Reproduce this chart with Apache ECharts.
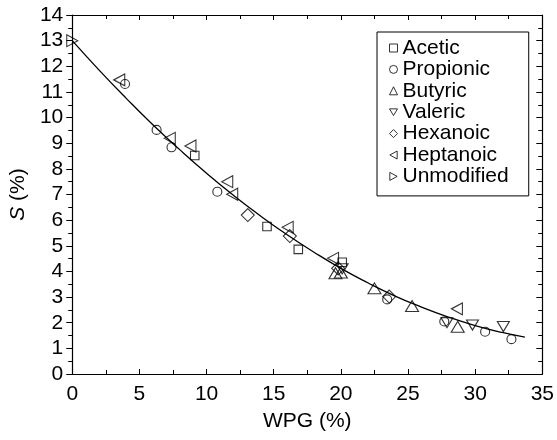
<!DOCTYPE html>
<html>
<head>
<meta charset="utf-8">
<script src="https://cdn.jsdelivr.net/npm/echarts@6/dist/echarts.min.js"></script>
<style>
html,body{margin:0;padding:0;background:#fff;}
#chart{width:557px;height:440px;}
</style>
</head>
<body>
<div id="chart"></div>
<script>
// Data: [WPG (%), S (%)]
const acetic = [[9.12, 8.52], [14.5, 5.75], [16.83, 4.86], [20.1, 4.36]];
const propionic = [[3.93, 11.31], [6.28, 9.52], [7.39, 8.84], [10.8, 7.11], [23.45, 2.91], [27.7, 2.05], [30.74, 1.65], [32.7, 1.36]];
const butyric = [[19.6, 3.93], [20.0, 3.96], [22.5, 3.34], [25.3, 2.65], [28.7, 1.84]];
const valeric = [[20.1, 4.1], [27.9, 2.0], [29.8, 1.91], [32.1, 1.85]];
const hexanoic = [[13.07, 6.2], [16.2, 5.38], [19.8, 4.12], [23.6, 3.02]];
const heptanoic = [[3.5, 11.47], [7.26, 9.19], [8.8, 8.89], [11.54, 7.5], [11.91, 7.01], [16.04, 5.72], [19.42, 4.51], [28.64, 2.54]];
const unmodified = [[0, 13.0]];
// Fitted curve
const fitX = [0, 2, 4, 6, 8, 10, 12, 14, 16, 18, 20, 22, 24, 26, 28, 30, 32, 33.7];
const fitY = [13.0, 11.85, 10.76, 9.72, 8.75, 7.83, 6.97, 6.17, 5.43, 4.75, 4.12, 3.56, 3.05, 2.61, 2.22, 1.89, 1.62, 1.44];
const seriesNames = ['Acetic', 'Propionic', 'Butyric', 'Valeric', 'Hexanoic', 'Heptanoic', 'Unmodified'];

const FONT = 'Liberation Sans, Arial, Helvetica, sans-serif';
const chart = echarts.init(document.getElementById('chart'), null, {renderer: 'canvas'});

const hollow = {color: 'rgba(0,0,0,0)', borderColor: '#000', borderWidth: 1.1};
function sc(name, data, symbol, size) {
  return {
    name: name, type: 'scatter', data: data, symbol: symbol, symbolSize: size,
    itemStyle: hollow, z: 3, emphasis: {disabled: true}
  };
}

const axisCommon = {
  type: 'value',
  axisLine: {show: true, onZero: false, lineStyle: {color: '#000', width: 1.2}},
  splitLine: {show: false},
  minorSplitLine: {show: false}
};

const option = {
  animation: false,
  backgroundColor: '#fff',
  grid: {left: 72, right: 13, top: 15, bottom: 66, containLabel: false},
  legend: {
    data: seriesNames,
    orient: 'vertical',
    left: 377, top: 32,
    padding: [5.5, 20, 9, 12],
    itemGap: 0.4,
    itemWidth: 8, itemHeight: 8,
    itemTextGap: 15,
    borderColor: '#000', borderWidth: 1,
    textStyle: {fontFamily: FONT, fontSize: 21, color: '#000'},
    itemStyle: {color: 'rgba(0,0,0,0)', borderColor: '#000', borderWidth: 1}
  },
  xAxis: [
    Object.assign({}, axisCommon, {
      position: 'bottom', min: 0, max: 35, interval: 5,
      axisTick: {show: true, inside: true, length: 5, lineStyle: {color: '#000'}},
      minorTick: {show: true, splitNumber: 2, length: 4, lineStyle: {color: '#000'}},
      axisLabel: {fontFamily: FONT, fontSize: 21, color: '#000', margin: 10},
      name: 'WPG (%)', nameLocation: 'middle', nameGap: 37,
      nameTextStyle: {fontFamily: FONT, fontSize: 21, color: '#000'}
    }),
    Object.assign({}, axisCommon, {
      position: 'top', min: 0, max: 35, interval: 5,
      axisTick: {show: true, inside: true, length: 5, lineStyle: {color: '#000'}},
      minorTick: {show: true, splitNumber: 2, length: 4, lineStyle: {color: '#000'}},
      axisLabel: {show: false}
    })
  ],
  yAxis: [
    Object.assign({}, axisCommon, {
      position: 'left', min: 0, max: 14, interval: 1,
      axisTick: {show: true, inside: false, length: 6, lineStyle: {color: '#000'}},
      minorTick: {show: true, splitNumber: 2, length: 4, lineStyle: {color: '#000'}},
      axisLabel: {fontFamily: FONT, fontSize: 21, color: '#000', margin: 9},
      name: '{i|S} (%)', nameLocation: 'middle', nameGap: 41, nameRotate: 90,
      nameTextStyle: {fontFamily: FONT, fontSize: 21, color: '#000',
        rich: {i: {fontFamily: FONT, fontSize: 21, fontStyle: 'italic', color: '#000'}}}
    }),
    Object.assign({}, axisCommon, {
      position: 'right', min: 0, max: 14, interval: 1,
      axisTick: {show: true, inside: true, length: 6, lineStyle: {color: '#000'}},
      minorTick: {show: true, splitNumber: 2, length: 4, lineStyle: {color: '#000'}},
      axisLabel: {show: false}
    })
  ],
  series: [
    {
      name: 'fit', type: 'line', smooth: true, showSymbol: false, z: 2,
      data: fitX.map((x, i) => [x, fitY[i]]),
      lineStyle: {color: '#000', width: 1.3}, itemStyle: {color: '#000'},
      emphasis: {disabled: true}
    },
    sc('Acetic', acetic, 'rect', 8.5),
    sc('Propionic', propionic, 'circle', 9),
    sc('Butyric', butyric, 'triangle', [13, 11]),
    sc('Valeric', valeric, 'path://M0,0L12,0L6,10Z', [12, 10]),
    sc('Hexanoic', hexanoic, 'diamond', [13, 13]),
    sc('Heptanoic', heptanoic, 'path://M0,6L11,0L11,12Z', [11, 12]),
    sc('Unmodified', unmodified, 'path://M0,0L11,6L0,12Z', [11, 12])
  ]
};
chart.setOption(option);
</script>
</body>
</html>
